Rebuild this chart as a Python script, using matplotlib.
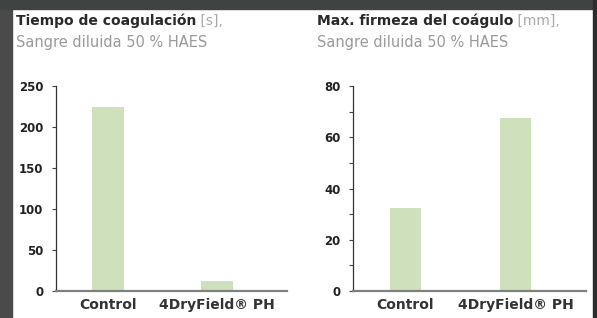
import numpy as np
import matplotlib.pyplot as plt
from matplotlib.patches import Rectangle
from matplotlib.ticker import MultipleLocator

plt.rcParams['font.family'] = ['DejaVu Sans']

# datos
categorias = ["Control", "4DryField\u00ae PH"]
tiempo_coag = [224, 12]        # s
firmeza_max = [32.5, 67.5]     # mm

titulos = [("Tiempo de coagulación", " [s],"),
           ("Max. firmeza del coágulo", " [mm],")]
subtitulo = "Sangre diluida 50 % HAES"

verde = "#cfe0bd"

fig = plt.figure(figsize=(5.97, 3.18), dpi=100)
fig.patch.set_facecolor("white")

# marco oscuro de la foto
fig.patches.append(Rectangle((0, 0), 12/597, 1, transform=fig.transFigure,
                             color="#4a4a4a", zorder=0))
fig.patches.append(Rectangle((0, 1 - 9/318), 1, 9/318, transform=fig.transFigure,
                             color="#3f4442", zorder=0))
fig.patches.append(Rectangle((593/597, 0), 4/597, 1, transform=fig.transFigure,
                             color="#2c2c2c", zorder=0))

ax1 = fig.add_axes([56/597, 1 - 291/318, 231/597, 205/318])
ax2 = fig.add_axes([353/597, 1 - 291/318, 233/597, 205/318])

x = np.arange(len(categorias))
for ax, vals, ymax, step, minor in [(ax1, tiempo_coag, 250, 50, None),
                                    (ax2, firmeza_max, 80, 20, 10)]:
    ax.bar(x, vals, width=0.285, color=verde, zorder=2)
    ax.set_xlim(-0.477, 1.642)
    ax.set_ylim(0, ymax)
    ax.yaxis.set_major_locator(MultipleLocator(step))
    if minor:
        ax.yaxis.set_minor_locator(MultipleLocator(minor))
        ax.tick_params(axis="y", which="minor", length=3, width=0.8, color="#444")
    ax.set_xticks(x)
    ax.set_xticklabels(categorias, fontsize=10, fontweight="bold", color="#333333")
    ax.tick_params(axis="x", length=0, pad=5)
    ax.tick_params(axis="y", which="major", length=3, width=0.8, color="#444",
                   labelsize=8.5, labelcolor="#222222", pad=6)
    for lab in ax.get_yticklabels():
        lab.set_fontweight("bold")
    ax.spines["top"].set_visible(False)
    ax.spines["right"].set_visible(False)
    ax.spines["left"].set_color("#333333")
    ax.spines["left"].set_linewidth(0.9)
    ax.spines["bottom"].set_color("#808080")
    ax.spines["bottom"].set_linewidth(1.6)

# titulos con dos estilos
fig.canvas.draw()
renderer = fig.canvas.get_renderer()
for (negrita, unidad), x0 in zip(titulos, [16/597, 317/597]):
    t = fig.text(x0, 1 - 25/318, negrita, fontsize=10, fontweight="bold",
                 color="#2a2a2a", va="baseline")
    bb = t.get_window_extent(renderer)
    fig.text(bb.x1 / fig.bbox.width, 1 - 25/318, unidad, fontsize=10,
             color="#aaaaaa", va="baseline")
    fig.text(x0, 1 - 47/318, subtitulo, fontsize=10.5, color="#9a9a9a",
             va="baseline")

fig.savefig("out.png", dpi=100)
